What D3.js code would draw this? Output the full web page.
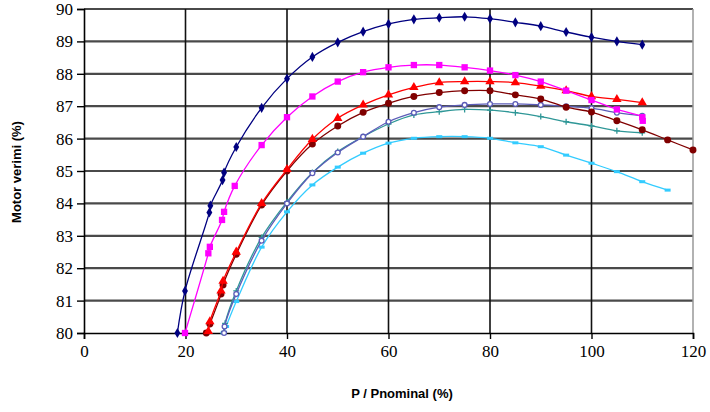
<!DOCTYPE html>
<html>
<head>
<meta charset="utf-8">
<script src="https://cdn.jsdelivr.net/npm/d3@7"></script>
<style>
  body { margin: 0; background: #fff; }
  svg { display: block; }
  .tick text { font-family: "Liberation Serif", "DejaVu Serif", serif; }
</style>
</head>
<body>
<svg id="chart" width="710" height="412"></svg>
<script>
// load ratio (%) and efficiency (%) per motor curve
var navyX = [18.4, 19.9, 24.7, 24.9, 27.3, 27.6, 30, 35, 40, 45, 50, 55, 60, 65, 70, 75, 80, 85, 90, 95, 100, 105, 110];
var navyY = [80, 81.3, 83.72, 83.93, 84.72, 84.95, 85.74, 86.95, 87.85, 88.52, 88.97, 89.3, 89.54, 89.68, 89.73, 89.76, 89.7, 89.59, 89.47, 89.29, 89.13, 89.0, 88.9];

var magentaX = [19.9, 24.5, 24.8, 27.2, 27.6, 29.7, 35, 40, 45, 50, 55, 60, 65, 70, 75, 80, 85, 90, 95, 100, 105, 110, 110.1];
var magentaY = [80, 82.46, 82.66, 83.49, 83.74, 84.54, 85.8, 86.66, 87.3, 87.76, 88.05, 88.2, 88.27, 88.27, 88.2, 88.1, 87.96, 87.76, 87.48, 87.19, 86.9, 86.66, 86.55];

var redX = [24.5, 24.8, 27, 27.4, 30, 35, 40, 45, 50, 55, 60, 65, 70, 75, 80, 85, 90, 95, 100, 105, 110];
var redY = [80.05, 80.35, 81.3, 81.6, 82.5, 84.0, 85.05, 85.98, 86.63, 87.04, 87.35, 87.58, 87.73, 87.76, 87.76, 87.73, 87.62, 87.48, 87.3, 87.21, 87.11];

var darkredX = [24.1, 24.8, 27, 27.4, 30, 35, 40, 45, 50, 55, 60, 65, 70, 75, 80, 85, 90, 95, 100, 105, 110, 115, 120];
var darkredY = [80, 80.28, 81.2, 81.48, 82.43, 83.95, 85.0, 85.83, 86.39, 86.81, 87.09, 87.3, 87.42, 87.48, 87.48, 87.35, 87.22, 86.97, 86.82, 86.55, 86.27, 85.96, 85.65];

var purpleX = [27.6, 27.7, 30, 35, 40, 45, 50, 55, 60, 65, 70, 75, 80, 85, 90, 95, 100, 105, 110];
var purpleY = [80, 80.2, 81.2, 82.85, 84.0, 84.93, 85.57, 86.06, 86.52, 86.8, 86.97, 87.04, 87.07, 87.07, 87.04, 87.0, 86.94, 86.8, 86.7];

var tealX = [27.6, 27.8, 30, 35, 40, 45, 50, 55, 60, 65, 70, 75, 80, 85, 90, 95, 100, 105, 110];
var tealY = [80.05, 80.3, 81.3, 82.95, 84.05, 84.95, 85.6, 86.06, 86.45, 86.73, 86.83, 86.9, 86.88, 86.8, 86.68, 86.52, 86.39, 86.24, 86.18];

var cyanX = [27.5, 28, 30, 35, 40, 45, 50, 55, 60, 65, 70, 75, 80, 85, 90, 95, 100, 105, 110, 115];
var cyanY = [80, 80.2, 80.97, 82.65, 83.74, 84.57, 85.12, 85.55, 85.86, 86.01, 86.06, 86.06, 86.01, 85.87, 85.75, 85.49, 85.24, 84.98, 84.67, 84.41];

var xTicks = [0, 20, 40, 60, 80, 100, 120];
var yTicks = [80, 81, 82, 83, 84, 85, 86, 87, 88, 89, 90];

function zip(xs, ys) { return xs.map(function(x, i) { return {x: x, y: ys[i]}; }); }

var series = [
  {name: 'cyan', pts: zip(cyanX, cyanY), color: '#33ccff', marker: 'dash'},
  {name: 'teal', pts: zip(tealX, tealY), color: '#2f9797', marker: 'plus'},
  {name: 'purple', pts: zip(purpleX, purpleY), color: '#5c5cb8', marker: 'ring'},
  {name: 'darkred', pts: zip(darkredX, darkredY), color: '#800000', marker: 'circle'},
  {name: 'red', pts: zip(redX, redY), color: '#ff0000', marker: 'triangle'},
  {name: 'magenta', pts: zip(magentaX, magentaY), color: '#ff00ff', marker: 'square'},
  {name: 'navy', pts: zip(navyX, navyY), color: '#000080', marker: 'diamond'}
];

var svg = d3.select('#chart');
var x = d3.scaleLinear().domain([0, 120]).range([84, 693]);
var y = d3.scaleLinear().domain([80, 90]).range([333, 9]);

// horizontal grid
svg.append('g').selectAll('line')
  .data(yTicks.slice(1))
  .enter().append('line')
  .attr('x1', x(0)).attr('x2', x(120))
  .attr('y1', function(d) { return y(d); }).attr('y2', function(d) { return y(d); })
  .attr('stroke', '#4a4a4a').attr('stroke-width', 2.2);

// vertical grid
svg.append('g').selectAll('line')
  .data(xTicks.slice(1, -1))
  .enter().append('line')
  .attr('x1', function(d) { return x(d); }).attr('x2', function(d) { return x(d); })
  .attr('y1', y(90)).attr('y2', y(80))
  .attr('stroke', '#111').attr('stroke-width', 1.6);

svg.append('line')
  .attr('x1', x(120)).attr('x2', x(120)).attr('y1', y(90)).attr('y2', y(80))
  .attr('stroke', '#999').attr('stroke-width', 1.5);

// axes
var yAxis = svg.append('g')
  .attr('transform', 'translate(' + x(0) + ',0)')
  .call(d3.axisLeft(y).tickValues(yTicks).tickSize(7).tickPadding(4));
var xAxis = svg.append('g')
  .attr('transform', 'translate(0,' + y(80) + ')')
  .call(d3.axisBottom(x).tickValues(xTicks).tickSize(6).tickPadding(6));

[xAxis, yAxis].forEach(function(ax) {
  ax.attr('font-family', '"Liberation Serif", serif').attr('font-size', 17);
  ax.select('.domain').attr('stroke', '#000').attr('stroke-width', 1.6);
  ax.selectAll('.tick line').attr('stroke', '#000').attr('stroke-width', 1.4);
  ax.selectAll('text').attr('fill', '#000');
});

// curves
var line = d3.line()
  .x(function(d) { return x(d.x); })
  .y(function(d) { return y(d.y); })
  .curve(d3.curveCatmullRom.alpha(0.5));

var sym = {
  diamond: d3.symbol().type(d3.symbolDiamond).size(30),
  square: d3.symbol().type(d3.symbolSquare).size(40),
  triangle: d3.symbol().type(d3.symbolTriangle).size(38),
  circle: d3.symbol().type(d3.symbolCircle).size(38)
};

series.forEach(function(s) {
  var g = svg.append('g');
  g.append('path')
    .attr('d', line(s.pts))
    .attr('fill', 'none')
    .attr('stroke', s.color)
    .attr('stroke-width', 1.3);

  var m = g.selectAll('.mk').data(s.pts).enter();
  if (s.marker == 'dash') {
    m.append('rect')
      .attr('x', function(d) { return x(d.x) - 3; })
      .attr('y', function(d) { return y(d.y) - 1.5; })
      .attr('width', 6).attr('height', 3)
      .attr('fill', s.color);
  } else if (s.marker == 'ring') {
    m.append('circle')
      .attr('cx', function(d) { return x(d.x); })
      .attr('cy', function(d) { return y(d.y); })
      .attr('r', 2.4)
      .attr('fill', '#fff').attr('stroke', s.color).attr('stroke-width', 1.3);
  } else if (s.marker == 'plus') {
    m.append('path')
      .attr('transform', function(d) { return 'translate(' + x(d.x) + ',' + y(d.y) + ')'; })
      .attr('d', 'M-3,0H3M0,-3V3')
      .attr('stroke', s.color).attr('stroke-width', 1.3);
  } else {
    m.append('path')
      .attr('transform', function(d) { return 'translate(' + x(d.x) + ',' + y(d.y) + ')'; })
      .attr('d', sym[s.marker])
      .attr('fill', s.color);
  }
});

// titles
svg.append('text')
  .attr('transform', 'translate(21,172) rotate(-90)')
  .attr('text-anchor', 'middle')
  .style('font-family', '"Liberation Sans", Arial, sans-serif')
  .style('font-size', '13px').style('font-weight', 'bold')
  .text('Motor verimi (%)');

svg.append('text')
  .attr('x', 402).attr('y', 398)
  .attr('text-anchor', 'middle')
  .style('font-family', '"Liberation Sans", Arial, sans-serif')
  .style('font-size', '13px').style('font-weight', 'bold')
  .text('P / Pnominal (%)');
</script>
</body>
</html>
